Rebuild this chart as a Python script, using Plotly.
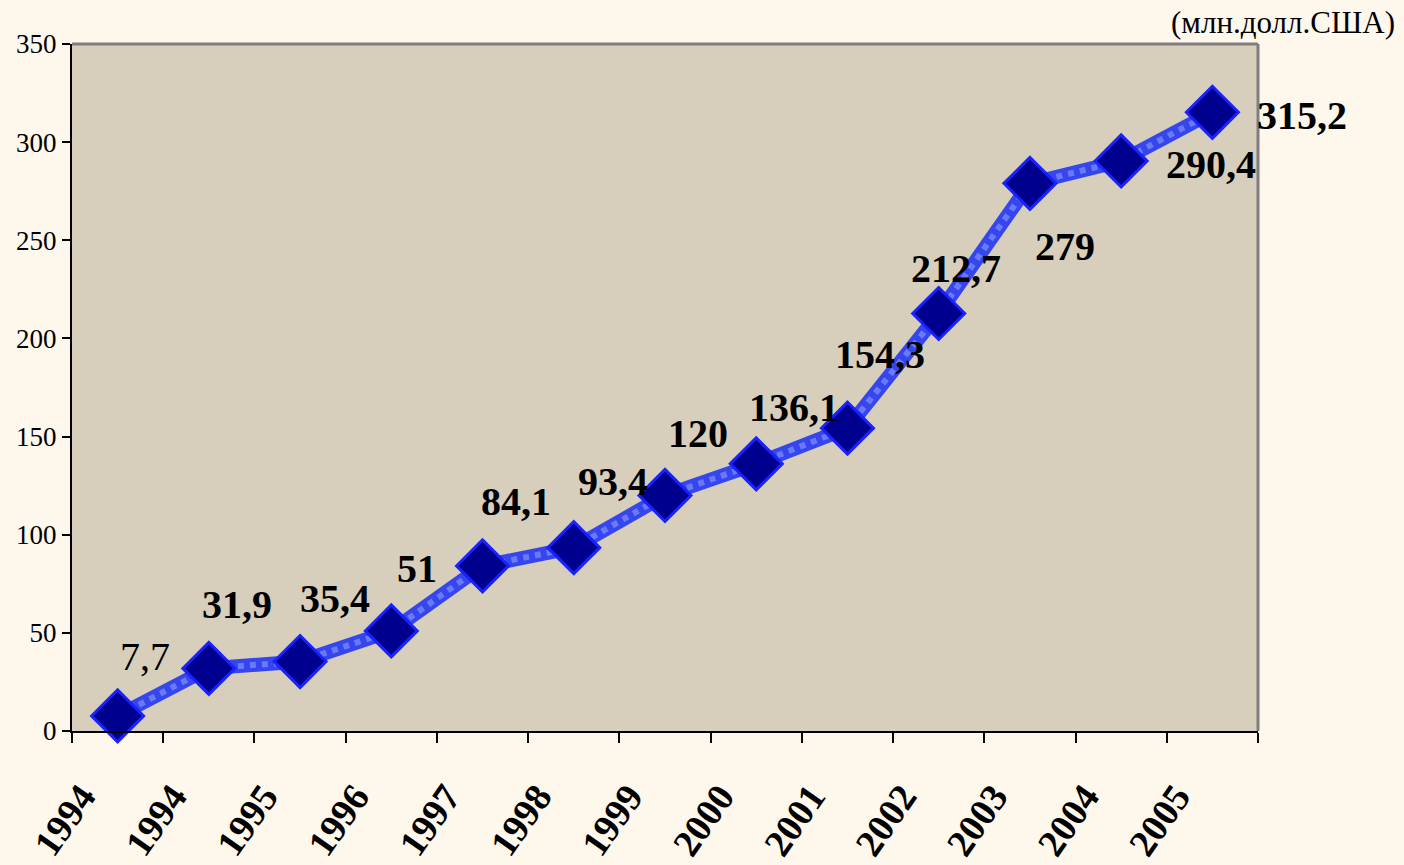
import plotly.graph_objects as go

# ---- data ----
tick_labels = ["1994", "1994", "1995", "1996", "1997", "1998", "1999",
               "2000", "2001", "2002", "2003", "2004", "2005"]
values = [7.7, 31.9, 35.4, 51, 84.1, 93.4, 120, 136.1, 154.3, 212.7, 279, 290.4, 315.2]
label_bold = [False] + [True] * 12
# label offsets (px) relative to each point
label_dx = [27, 28, 35, 26, 33, 39, 33, 38, 33, 17, 35, 90, 90]
label_dy = [59, 64, 63, 62, 64, 66, 62, 56, 74, 45, -63, -4, -3]

xs = list(range(len(values)))
SERIF = "Liberation Serif, Times New Roman, serif"

fig = go.Figure()
fig.add_trace(go.Scatter(
    x=xs, y=values, mode="lines",
    line=dict(color="#3546ee", width=14),
    hoverinfo="skip", showlegend=False, cliponaxis=False,
))
fig.add_trace(go.Scatter(
    x=xs, y=values, mode="lines",
    line=dict(color="rgba(170,185,255,0.45)", width=6, dash="dot"),
    hoverinfo="skip", showlegend=False, cliponaxis=False,
))
fig.add_trace(go.Scatter(
    x=xs, y=values, mode="markers",
    marker=dict(symbol="diamond", size=40, color="#00008e",
                line=dict(color="#1822ff", width=3)),
    hoverinfo="skip", showlegend=False, cliponaxis=False,
))

for i, v in enumerate(values):
    txt = f"{v:g}".replace(".", ",")
    fig.add_annotation(
        x=xs[i], y=v, xref="x", yref="y", text=txt, showarrow=False,
        xshift=label_dx[i], yshift=label_dy[i],
        font=dict(family=SERIF, size=40, color="#000000",
                  weight="bold" if label_bold[i] else "normal"),
    )

fig.add_annotation(
    x=1, y=1.0, xref="paper", yref="paper", xanchor="right", yanchor="bottom",
    text="(млн.долл.США)", showarrow=False, xshift=139, yshift=2,
    font=dict(family=SERIF, size=31, color="#000000"),
)

# gray frame on top and right
fig.add_shape(type="line", xref="paper", yref="paper", x0=0, x1=1, y0=1, y1=1,
              line=dict(color="#7f7f7f", width=3))
fig.add_shape(type="line", xref="paper", yref="paper", x0=1, x1=1, y0=0, y1=1,
              line=dict(color="#7f7f7f", width=3))

fig.update_layout(
    width=1404, height=865,
    margin=dict(l=72, r=146, t=44, b=134, autoexpand=False),
    paper_bgcolor="#fdf7ec",
    plot_bgcolor="#d7cebc",
    xaxis=dict(
        range=[-0.5, len(values) - 0.5], automargin=False,
        tickmode="array", tickvals=xs, ticktext=tick_labels,
        tickangle=-55, ticks="", showgrid=False, zeroline=False,
        showline=True, linecolor="#000000", linewidth=2,
        tickfont=dict(family=SERIF, size=38, color="#000000", weight="bold"),
        ticklabelstandoff=26, ticklabelshift=-36,
        minor=dict(tickmode="array",
                   tickvals=[i - 0.5 for i in range(len(values) + 1)],
                   ticks="outside", ticklen=10, tickwidth=2, tickcolor="#000000",
                   showgrid=False),
    ),
    yaxis=dict(
        range=[0, 350], dtick=50, ticks="outside", ticklen=8, tickwidth=2,
        automargin=False,
        tickcolor="#000000", showgrid=False, zeroline=False,
        showline=True, linecolor="#000000", linewidth=2,
        tickfont=dict(family=SERIF, size=27, color="#000000"),
    ),
)

fig.write_html("out.html", config={"displayModeBar": False},
               post_script="document.body.style.margin='0';document.body.style.overflow='hidden';")
